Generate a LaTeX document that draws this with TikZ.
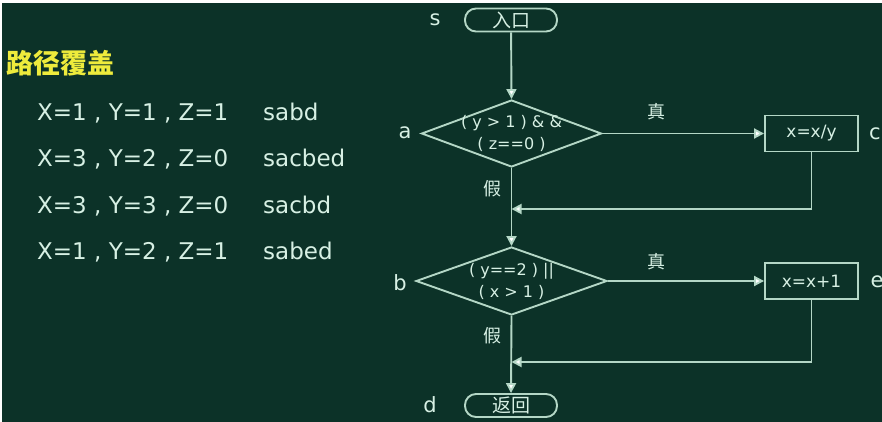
\documentclass[tikz,border=0pt]{standalone}
\usepackage{fontspec}
\setmainfont{DejaVu Sans}
\newfontfamily\cjk{Noto Sans CJK SC}
\newfontfamily\cjkb{Noto Sans CJK SC Black}
\usetikzlibrary{shapes.geometric,arrows.meta,calc}
\definecolor{bg}{RGB}{12,50,40}
\definecolor{ln}{RGB}{180,215,198}
\definecolor{tx}{RGB}{215,240,228}
\definecolor{ttl}{RGB}{238,235,60}
\tikzset{
  flow/.style={draw=ln,line width=1.9pt},
  arr/.style={flow,-{Triangle[length=10pt,width=10pt,fill=white]}},
  term/.style={draw=ln,line width=1.9pt,rounded corners=11pt,minimum width=92pt,minimum height=23pt,inner sep=0pt,text=tx,font=\cjk\fontsize{19}{19}\selectfont},
  cond/.style={draw=ln,line width=1.9pt,diamond,aspect=2.7,inner xsep=-14pt,inner ysep=-3pt,text=tx,align=center,font=\fontsize{16}{22}\selectfont},
  proc/.style={draw=ln,line width=1.9pt,minimum width=93pt,minimum height=36pt,inner sep=0pt,text=tx,font=\fontsize{17}{17}\selectfont},
  lbl/.style={text=tx,font=\fontsize{21}{21}\selectfont,inner sep=0pt},
  yn/.style={text=tx,font=\cjk\fontsize{18}{18}\selectfont,inner sep=0pt},
  row/.style={text=tx,font=\fontsize{23}{23}\selectfont,inner sep=0pt,anchor=base west},
}
\begin{document}
\begin{tikzpicture}[x=1pt,y=-1pt]
\useasboundingbox (0,0) rectangle (882,422);
\fill[white] (0,0) rectangle (882,422);
\fill[bg] (2,3) rectangle (882,422);
% left text
\node[text=ttl,font=\cjkb\fontsize{27}{27}\selectfont,inner sep=0pt,anchor=west] (title) at (6,63) {路径覆盖};
\node[row] (r1) at (37,121) {X=1 , Y=1 , Z=1};
\node[row] (p1) at (263,121) {sabd};
\node[row] (r2) at (37,167) {X=3 , Y=2 , Z=0};
\node[row] (p2) at (263,167) {sacbed};
\node[row] (r3) at (37,213) {X=3 , Y=3 , Z=0};
\node[row] (p3) at (263,213) {sacbd};
\node[row] (r4) at (37,259) {X=1 , Y=2 , Z=1};
\node[row] (p4) at (263,259) {sabed};
% flowchart
\node[term] (s) at (511,20) {入口};
\node[lbl] (ls) at (435,20) {s};
\node[cond,minimum width=180pt,minimum height=67pt] (a) at (511.5,133.5) {( y > 1 ) \& \&\\( z==0 )};
\node[lbl] (la) at (405,133) {a};
\node[proc] (c) at (811.5,133.5) {x=x/y};
\node[lbl] (lc) at (875,134) {c};
\node[cond,minimum width=191pt,minimum height=68pt] (b) at (511.5,281) {( y==2 ) ||\\( x > 1 )};
\node[lbl] (lb) at (400,283) {b};
\node[proc] (e) at (811.5,281) {x=x+1};
\node[lbl] (le) at (877,282) {e};
\node[term] (d) at (511,405.5) {返回};
\node[lbl] (ld) at (430,405) {d};
\coordinate (j1) at (511.5,209);
\coordinate (j2) at (511.5,362);
\node[yn] (t1) at (656,112) {真};
\node[yn] (t2) at (656,262) {真};
\node[yn] (f1) at (492,189) {假};
\node[yn] (f2) at (492,336) {假};
\draw[arr] (s) -- (a.north);
\draw[arr] (a.east) -- (c.west);
\draw[arr] (a.south) -- (b.north);
\draw[arr] (c.south) |- (j1);
\draw[arr] (b.east) -- (e.west);
\draw[arr] (b.south) -- (d.north);
\draw[arr] (e.south) |- (j2);
\end{tikzpicture}
\end{document}
